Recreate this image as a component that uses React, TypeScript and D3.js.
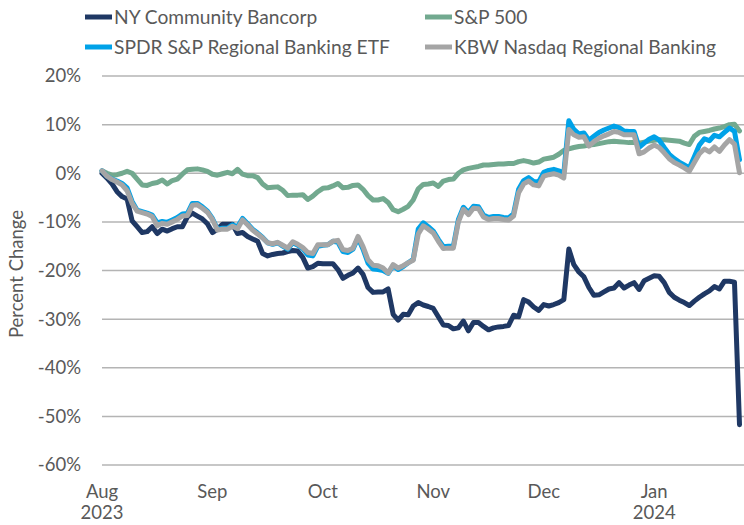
import React from "react";
import * as d3 from "d3";

const seriesNames = [
  "NY Community Bancorp",
  "S&P 500",
  "SPDR S&P Regional Banking ETF",
  "KBW Nasdaq Regional Banking",
];
const seriesColors = ["#1f3864", "#72a98f", "#00a2e8", "#a5a5a5"];

// trading-day index 0..127 (Aug 1 2023 .. Jan 31 2024), percent change
const nycb = [
  0, -1.0, -2.2, -3.8, -4.8, -5.3, -9.8, -11.0, -12.2, -12.0,
  -11.0, -12.4, -11.5, -11.9, -11.4, -11.0, -11.0, -9.0, -8.2, -8.8,
  -9.4, -10.4, -12.2, -11.5, -10.5, -10.5, -10.5, -12.4, -12.2, -13.0,
  -13.5, -14.0, -16.5, -17.0, -16.7, -16.5, -16.4, -16.1, -15.9, -16.0,
  -17.3, -19.5, -19.2, -18.5, -18.6, -18.6, -18.6, -19.8, -21.6, -21.0,
  -20.5, -19.5, -20.8, -23.5, -24.5, -24.4, -24.4, -23.8, -29.0, -30.2,
  -29.0, -29.1, -27.3, -26.6, -27.1, -27.4, -27.8, -29.5, -31.2, -31.3,
  -32.0, -31.8, -30.4, -32.4, -30.7, -30.7, -31.5, -32.2, -31.8, -31.6,
  -31.5, -31.3, -29.2, -29.5, -26.0, -26.5, -27.5, -28.2, -27.0, -27.3,
  -27.0, -26.6, -26.0, -15.6, -18.8, -20.3, -21.3, -23.5, -25.1, -25.0,
  -24.4, -23.8, -23.6, -22.5, -23.6, -23.0, -22.5, -23.9, -22.1, -21.6,
  -21.1, -21.2, -22.5, -24.5, -25.5, -26.1, -26.6, -27.2, -26.3, -25.5,
  -24.8, -24.2, -23.3, -23.8, -22.2, -22.2, -22.4, -51.7,
];
const sp500 = [
  0.5, 0.0, -0.4, -0.3, 0.0, 0.4, 0.0, -1.2, -2.4, -2.5,
  -2.1, -1.9, -1.4, -2.2, -1.5, -1.2, -0.2, 0.7, 0.8, 0.9,
  0.7, 0.4, -0.2, -0.4, -0.1, 0.2, -0.1, 0.8, -0.2, -0.5,
  -0.5, -0.9, -2.2, -3.0, -2.9, -2.8, -3.5, -4.6, -4.5, -4.5,
  -4.4, -5.4, -4.7, -3.8, -3.1, -3.0, -2.6, -2.1, -3.0, -2.9,
  -2.5, -2.4, -3.3, -4.6, -5.5, -5.5, -5.2, -6.0, -7.5, -7.9,
  -7.4, -6.8, -5.5, -3.2, -2.3, -2.2, -2.0, -2.7, -1.6, -1.3,
  -1.2, 0.0, 0.7, 1.0, 1.2, 1.4, 1.7, 1.7, 1.8, 1.9,
  1.9, 2.0, 2.0, 2.4, 2.6, 2.4, 2.1, 2.3, 2.9, 3.1,
  3.3, 3.9, 4.7, 5.0, 5.3, 5.5, 5.6, 5.8, 5.9, 6.1,
  6.3, 6.5, 6.6, 6.5, 6.4, 6.3, 6.3, 6.2, 6.4, 6.6,
  6.8, 6.9, 6.9, 6.8, 6.7, 6.6, 6.2, 5.9, 7.6, 8.4,
  8.6, 8.8, 9.1, 9.3, 9.6, 10.0, 10.1, 8.7,
];
const spdr = [
  0.5, -0.6, -1.2, -1.6, -2.1, -3.0, -5.8, -7.6, -7.9, -8.2,
  -8.6, -10.2, -9.9, -10.1, -9.6, -9.1, -8.4, -8.3, -6.2, -6.2,
  -6.9, -7.8, -9.3, -11.5, -11.3, -11.3, -10.6, -11.0, -9.3, -10.4,
  -11.5, -12.3, -13.2, -14.3, -14.6, -14.3, -15.0, -15.6, -14.3, -14.8,
  -15.5, -16.8, -17.0, -15.0, -14.8, -14.7, -14.0, -14.2, -16.1, -16.3,
  -15.6, -13.3, -15.6, -18.5, -19.7, -19.8, -20.0, -20.6, -19.0, -19.8,
  -19.2, -18.4, -17.7, -11.5, -10.2, -11.0, -11.9, -13.6, -15.1, -15.0,
  -15.0, -9.5, -7.0, -8.1, -6.8, -6.9, -8.6, -9.1, -8.9, -8.9,
  -9.1, -9.2, -8.3, -3.3, -1.5, -0.9, -1.7, -1.8, 0.2, 0.6,
  0.8, 0.5, 0.0, 10.8, 9.0, 8.1, 8.3, 6.8, 7.6, 8.4,
  8.9, 9.3, 9.7, 9.4, 8.7, 8.6, 8.6, 5.3, 6.2, 7.0,
  7.5, 6.8, 5.3, 3.9, 3.0, 2.3, 1.7, 1.1, 3.4, 5.8,
  7.1, 6.7, 7.8, 7.5, 8.4, 9.3, 8.6, 2.8,
];
const kbw = [
  0.5, -0.6, -1.3, -1.8, -2.4, -3.6, -6.2, -7.8, -8.1, -8.4,
  -8.9, -10.8, -10.3, -10.5, -10.0, -9.5, -8.8, -8.7, -6.6, -6.5,
  -7.2, -8.0, -9.5, -11.7, -11.5, -11.5, -10.9, -11.4, -9.6, -10.6,
  -11.7, -12.5, -13.3, -14.3, -14.5, -14.2, -14.8, -15.4, -14.1, -14.6,
  -15.3, -16.3, -16.5, -14.7, -14.7, -14.7, -14.0, -13.8, -15.7, -15.9,
  -15.4, -13.0, -15.1, -17.8, -18.9, -19.0, -19.5, -20.5, -18.8, -19.5,
  -19.0, -18.4, -17.9, -12.5, -10.8, -11.5, -12.3, -14.0, -15.5, -15.4,
  -15.4, -10.0, -7.4, -8.5, -7.2, -7.3, -9.0, -9.5, -9.3, -9.3,
  -9.5, -9.6, -8.8, -4.0, -2.2, -1.6, -2.4, -2.6, -0.6, -0.3,
  -0.1, -0.4, -1.0, 9.0, 7.9, 7.4, 7.5, 5.6, 6.5, 7.2,
  7.7, 8.1, 8.6, 8.4, 7.9, 7.9, 7.9, 4.0, 4.4, 5.2,
  5.8, 5.3, 4.2, 3.0, 2.2, 1.7, 1.1, 0.4, 2.2, 4.0,
  5.0, 4.4, 5.4, 4.5, 5.8, 6.9, 6.0, 0.1,
];

const yTicks = [20, 10, 0, -10, -20, -30, -40, -50, -60];
const xTickIdx = [0, 22, 44, 66, 88, 110];
const xTickMonths = ["Aug", "Sep", "Oct", "Nov", "Dec", "Jan"];
const xTickYears = ["2023", "", "", "", "", "2024"];

const W = 744;
const H = 525;
const FONT = "Lato, 'Liberation Sans', Arial, sans-serif";
const TXT = "#595959";

export default function App() {
  const allSeries = [nycb, sp500, spdr, kbw];
  const x = d3.scaleLinear().domain([0, nycb.length - 1]).range([102, 739.5]);
  const y = d3.scaleLinear().domain([-60, 20]).range([465, 76]);
  const line = d3
    .line<number>()
    .x((_, i) => x(i))
    .y((d) => y(d))
    .curve(d3.curveLinear);

  const legendPos = [
    { x: 85, y: 17 },
    { x: 425, y: 17 },
    { x: 85, y: 47 },
    { x: 425, y: 47 },
  ];

  return (
    <svg
      width={W}
      height={H}
      style={{ position: "absolute", left: 0, top: 0, background: "#fff" }}
      fontFamily={FONT}
    >
      <rect x={0} y={0} width={W} height={H} fill="#fff" />
      {yTicks.map((t) => (
        <g key={t}>
          <line x1={102} x2={744} y1={y(t)} y2={y(t)} stroke="#b4b4b4" strokeWidth={1.5} />
          <text x={81} y={y(t)} dy="0.35em" textAnchor="end" fontSize={18.5} fill={TXT}>
            {`${t}%`}
          </text>
        </g>
      ))}
      {xTickIdx.map((idx, k) => (
        <g key={idx}>
          <text x={x(idx)} y={492} dy="0.35em" textAnchor="middle" fontSize={18.5} fill={TXT}>
            {xTickMonths[k]}
          </text>
          {xTickYears[k] && (
            <text x={x(idx)} y={513} dy="0.35em" textAnchor="middle" fontSize={18.5} fill={TXT}>
              {xTickYears[k]}
            </text>
          )}
        </g>
      ))}
      <text
        transform={`translate(17,274) rotate(-90)`}
        textAnchor="middle"
        dy="0.35em"
        fontSize={18.5}
        fill={TXT}
      >
        Percent Change
      </text>
      {allSeries.map((s, i) => (
        <path
          key={i}
          d={line(s) || ""}
          fill="none"
          stroke={seriesColors[i]}
          strokeWidth={5}
          strokeLinejoin="round"
          strokeLinecap="round"
        />
      ))}
      {seriesNames.map((n, i) => (
        <g key={n}>
          <line
            x1={legendPos[i].x}
            x2={legendPos[i].x + 27}
            y1={legendPos[i].y}
            y2={legendPos[i].y}
            stroke={seriesColors[i]}
            strokeWidth={5}
          />
          <text x={legendPos[i].x + 29} y={legendPos[i].y} dy="0.35em" fontSize={19.2} fill={TXT}>
            {n}
          </text>
        </g>
      ))}
    </svg>
  );
}
